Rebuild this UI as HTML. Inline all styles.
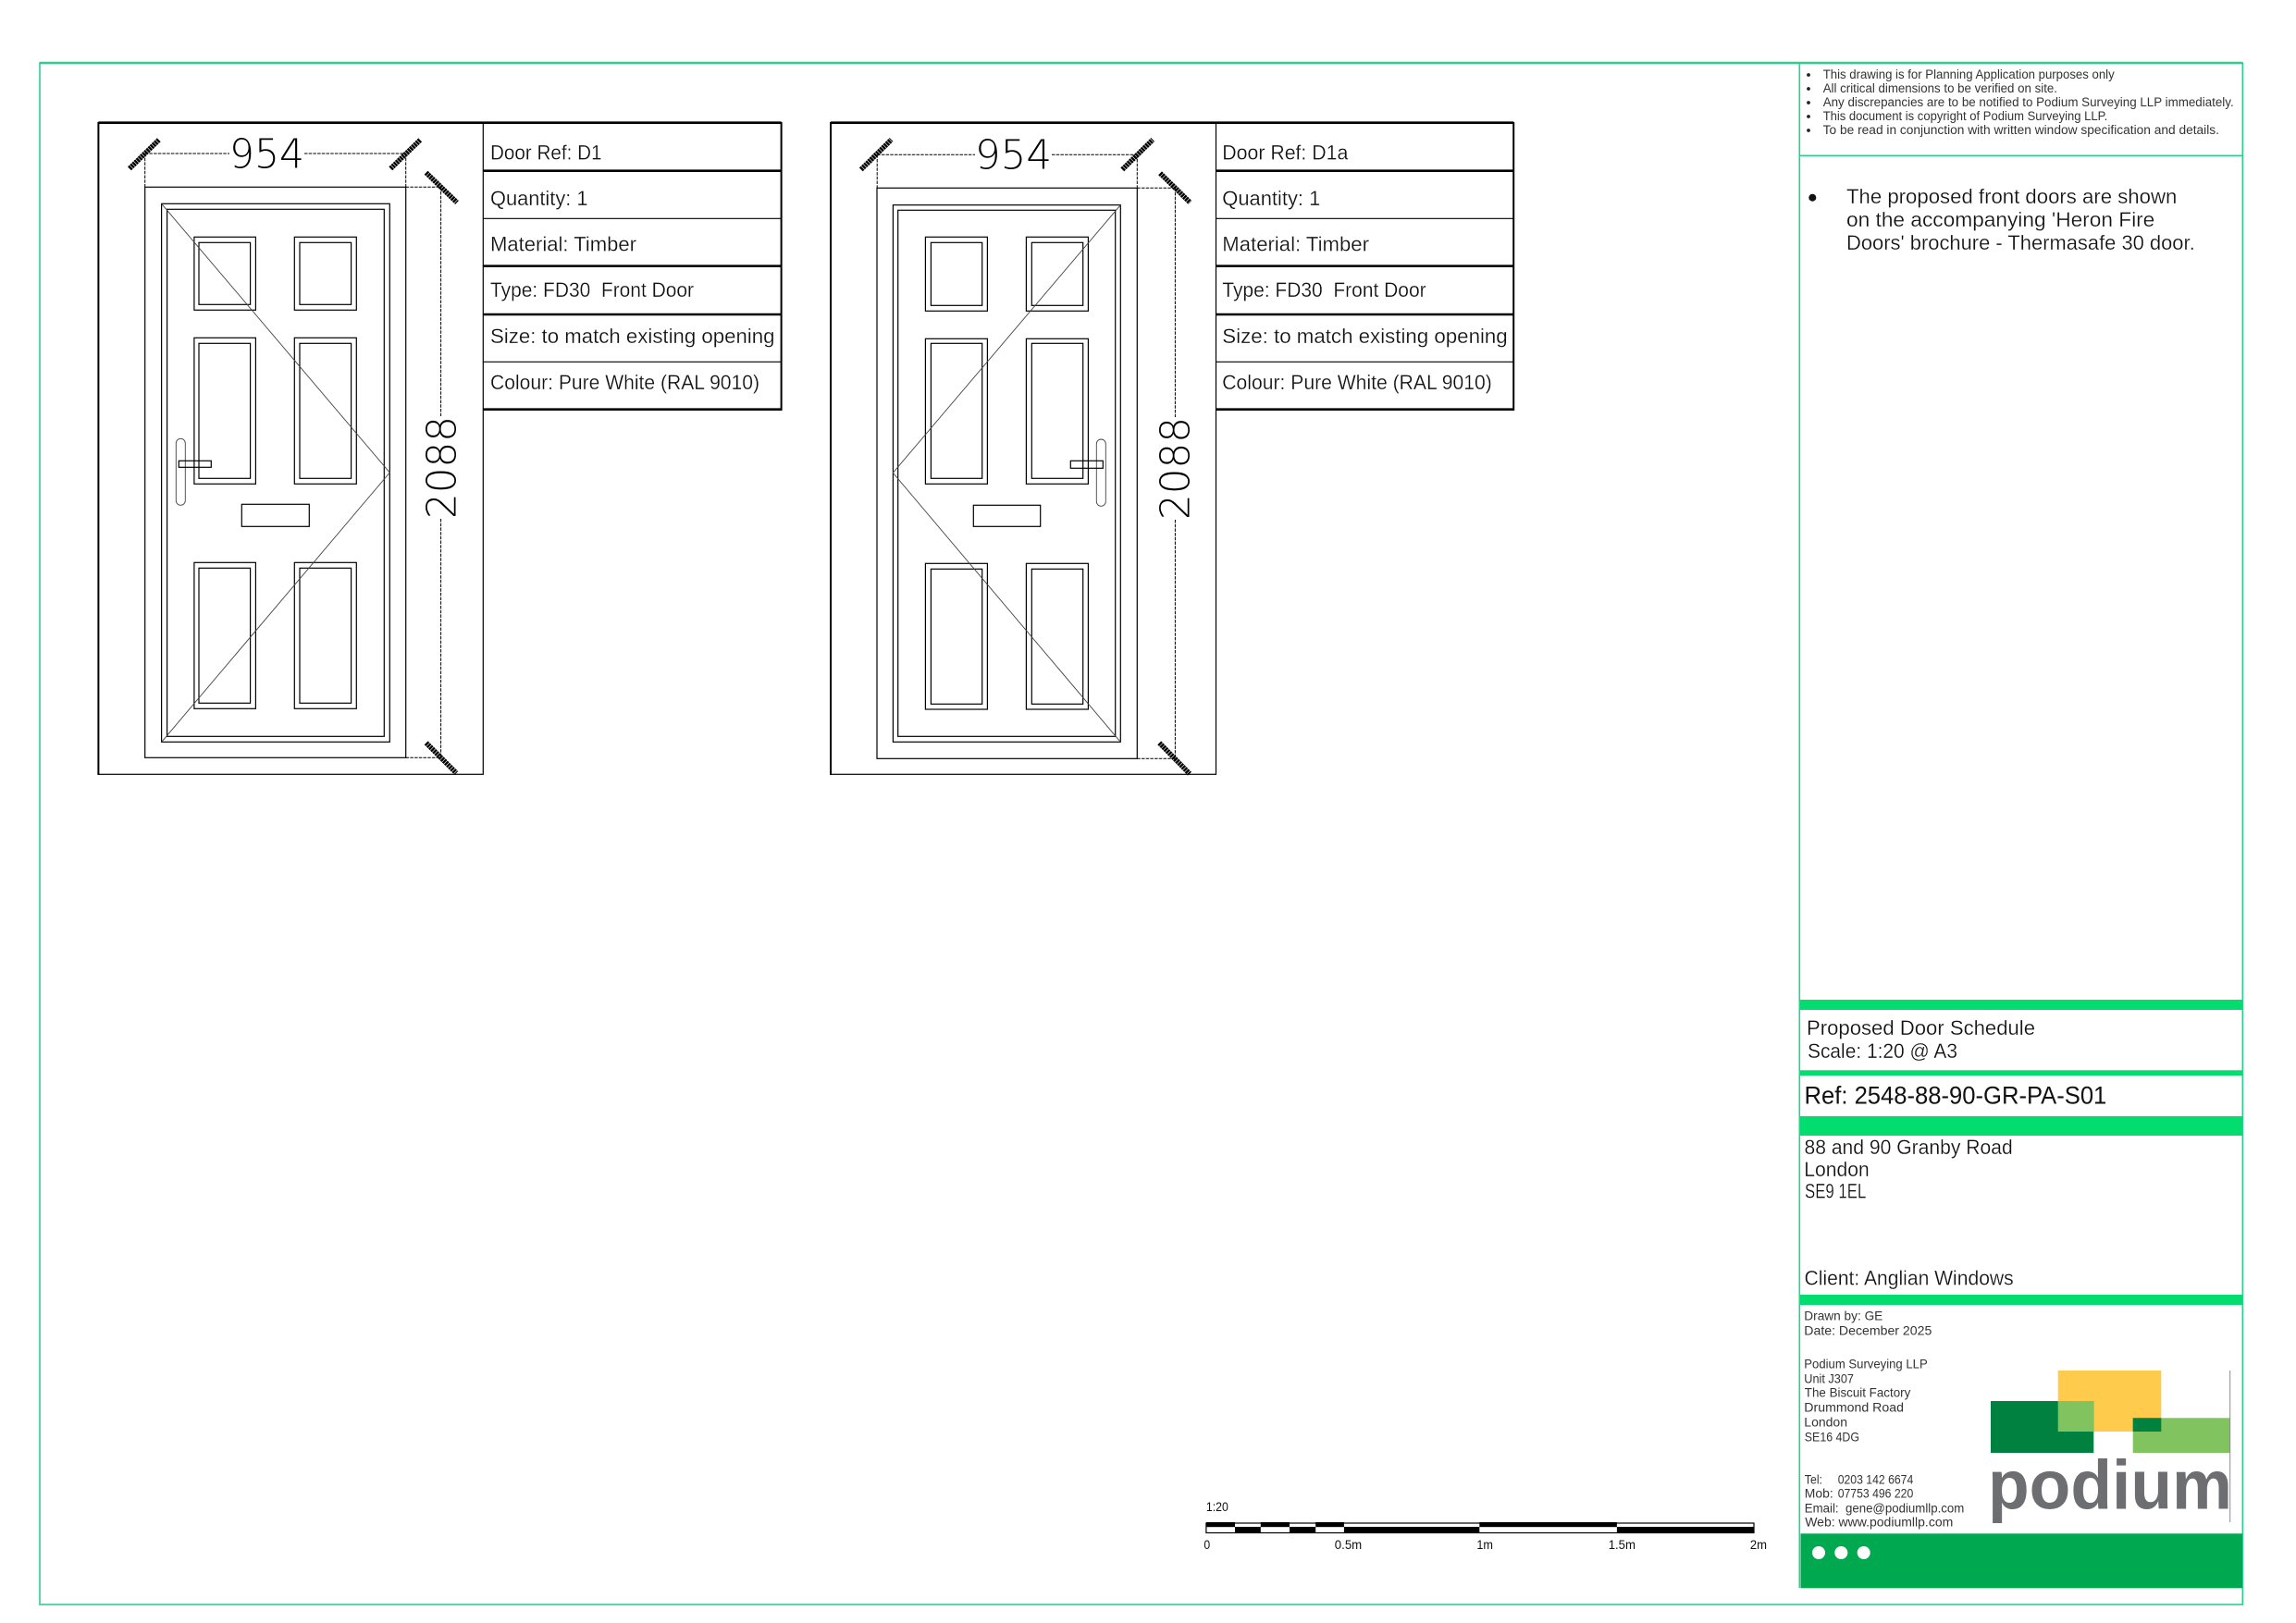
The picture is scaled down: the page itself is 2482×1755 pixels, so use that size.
<!DOCTYPE html>
<html><head><meta charset="utf-8"><title>Proposed Door Schedule</title>
<style>
html,body{margin:0;padding:0;background:#fff;width:2482px;height:1755px;overflow:hidden}
svg{display:block}
text{font-family:"Liberation Sans",sans-serif;fill:#111}
.l{fill:none;stroke:#000;stroke-width:1.2}
.s{fill:none;stroke:#444;stroke-width:.9}
.d{fill:none;stroke:#000;stroke-width:1;stroke-dasharray:3.5 1.2}
.t{fill:none;stroke:#000;stroke-width:5.5;stroke-dasharray:2.4 .6}
.b{fill:none;stroke:#000;stroke-width:2}
.b3{fill:none;stroke:#000;stroke-width:2.6}
.g{fill:none;stroke:#2bd08c;stroke-width:1.6}
.dim{font-family:"DejaVu Sans",sans-serif;font-weight:200;font-size:44px;fill:#000}
.tb{font-size:22px;stroke:#fff;stroke-width:.25px}
.n{font-size:13.5px;fill:#333}
.m{font-size:22px;stroke:#fff;stroke-width:.25px}
.a{font-size:14px;fill:#333}
.sc{font-size:14px;fill:#111}
</style></head><body>
<svg xmlns="http://www.w3.org/2000/svg" width="2482" height="1755" viewBox="0 0 2482 1755">
<rect width="2482" height="1755" fill="#fff"/>

<!-- outer frame -->
<rect x="43" y="68" width="2381.3" height="1667" class="g"/>
<line x1="43" y1="68" x2="2424" y2="68" stroke="#2bd08c" stroke-width="2.4"/>
<line x1="1945.3" y1="68" x2="1945.3" y2="1717" class="g"/>
<line x1="1945" y1="168.3" x2="2424" y2="168.3" class="g"/>

<!-- DOOR D1 -->
<rect x="106.4" y="132.7" width="415.9" height="704.6" class="l"/>
<line x1="106.4" y1="132.7" x2="844.6" y2="132.7" class="b3"/>
<line x1="106.4" y1="132" x2="106.4" y2="838" class="b"/>
<rect x="156.7" y="202.3" width="282" height="617" class="l"/>
<rect x="174.6" y="220.3" width="246.7" height="582" class="l"/>
<rect x="180.6" y="226.3" width="234.7" height="570" class="l"/>
<rect x="209.9" y="256.3" width="66.5" height="79" class="l"/><rect x="215" y="262.3" width="55.6" height="67" class="l"/>
<rect x="318.3" y="256.3" width="67" height="79" class="l"/><rect x="324" y="262.3" width="55.6" height="67" class="l"/>
<rect x="209.9" y="365.3" width="66.5" height="158" class="l"/><rect x="215" y="371.3" width="55.6" height="146" class="l"/>
<rect x="318.3" y="365.3" width="67" height="158" class="l"/><rect x="324" y="371.3" width="55.6" height="146" class="l"/>
<rect x="209.9" y="608.3" width="66.5" height="158" class="l"/><rect x="215" y="614.3" width="55.6" height="146" class="l"/>
<rect x="318.3" y="608.3" width="67" height="158" class="l"/><rect x="324" y="614.3" width="55.6" height="146" class="l"/>
<rect x="261.3" y="545.3" width="73" height="24" class="l"/>
<rect x="190.3" y="474.3" width="10" height="72" rx="5" ry="5" fill="#fff" class="s"/>
<rect x="193.3" y="498.3" width="35" height="7" fill="#fff" class="l"/>
<polyline points="174.6,220.3 421.3,511 174.7,802.3" class="s"/>
<path d="M156.7 166H248M329 166H438.7M156.7 166V202M438.7 166V202M438.7 202.3H476.6M476.6 202.3V450M476.6 561V819.3M438.7 819.3H476.6" class="d"/>
<line x1="140" y1="182.3" x2="172" y2="151" class="t"/>
<line x1="422.3" y1="182.3" x2="454.6" y2="151" class="t"/>
<line x1="460.6" y1="186.7" x2="494" y2="219" class="t"/>
<line x1="460.7" y1="803.3" x2="493.3" y2="836" class="t"/>
<text x="248" y="181.7" class="dim" textLength="81" lengthAdjust="spacingAndGlyphs">954</text>
<text transform="translate(492.3,561) rotate(-90)" class="dim" textLength="111" lengthAdjust="spacingAndGlyphs">2088</text>
<path d="M522.3 184.7H844.6M522.3 287.7H844.6M522.3 340H844.6M522.3 442.7H844.6" class="b3"/>
<path d="M522.3 236.3H844.6M522.3 391.3H844.6" class="l"/>
<line x1="844.6" y1="132" x2="844.6" y2="444" class="b"/>
<text x="530" y="172.3" class="tb" textLength="120.5" lengthAdjust="spacingAndGlyphs">Door Ref: D1</text>
<text x="530" y="222" class="tb" textLength="105.5" lengthAdjust="spacingAndGlyphs">Quantity: 1</text>
<text x="530" y="271.5" class="tb" textLength="158" lengthAdjust="spacingAndGlyphs">Material: Timber</text>
<text x="530" y="321" class="tb" textLength="220" lengthAdjust="spacingAndGlyphs" xml:space="preserve" style="white-space:pre">Type: FD30  Front Door</text>
<text x="530" y="371" class="tb" textLength="307.5" lengthAdjust="spacingAndGlyphs">Size: to match existing opening</text>
<text x="530" y="421" class="tb" textLength="291" lengthAdjust="spacingAndGlyphs">Colour: Pure White (RAL 9010)</text>

<!-- DOOR D1a -->
<rect x="898" y="132.7" width="416.5" height="704.6" class="l"/>
<line x1="898" y1="132.7" x2="1636.2" y2="132.7" class="b3"/>
<line x1="898" y1="132" x2="898" y2="838" class="b"/>
<rect x="948" y="203.3" width="281.3" height="617" class="l"/>
<rect x="965.4" y="221.7" width="245.9" height="580.6" class="l"/>
<rect x="970.7" y="227.3" width="235" height="569" class="l"/>
<rect x="1000.4" y="256.3" width="67" height="80" class="l"/><rect x="1006.4" y="262.3" width="55.3" height="68" class="l"/>
<rect x="1109.4" y="256.3" width="67" height="80" class="l"/><rect x="1115.3" y="262.3" width="55.4" height="68" class="l"/>
<rect x="1000.4" y="366.3" width="67" height="157" class="l"/><rect x="1006.4" y="371.3" width="55.3" height="146" class="l"/>
<rect x="1109.4" y="366.3" width="67" height="157" class="l"/><rect x="1115.3" y="371.3" width="55.4" height="146" class="l"/>
<rect x="1000.4" y="609.3" width="67" height="157.7" class="l"/><rect x="1006.4" y="615.3" width="55.3" height="146" class="l"/>
<rect x="1109.4" y="609.3" width="67" height="157.7" class="l"/><rect x="1115.3" y="615.3" width="55.4" height="146" class="l"/>
<rect x="1052.3" y="546.3" width="72.4" height="23" class="l"/>
<rect x="1185.3" y="475" width="10" height="72.3" rx="5" ry="5" fill="#fff" class="s"/>
<rect x="1157.3" y="498.3" width="35" height="8" fill="#fff" class="l"/>
<polyline points="1211.3,221.7 965.3,511.3 1211.3,802.3" class="s"/>
<path d="M948.2 167.3H1054M1137 167.3H1229.3M948.2 167.3V203M1229.3 167.3V203M1229.3 203.3H1270.4M1270.4 203.3V451M1270.4 562V820.3M1229.3 820.3H1270.4" class="d"/>
<line x1="930.8" y1="183.3" x2="963.6" y2="151" class="t"/>
<line x1="1213.3" y1="183.3" x2="1246.2" y2="151" class="t"/>
<line x1="1254.1" y1="187.3" x2="1286.5" y2="219" class="t"/>
<line x1="1253.3" y1="803.3" x2="1286" y2="836.7" class="t"/>
<text x="1054" y="182.3" class="dim" textLength="83" lengthAdjust="spacingAndGlyphs">954</text>
<text transform="translate(1285.7,562) rotate(-90)" class="dim" textLength="111" lengthAdjust="spacingAndGlyphs">2088</text>
<path d="M1314.3 184.7H1636.2M1314.3 287.7H1636.2M1314.3 340H1636.2M1314.3 442.7H1636.2" class="b3"/>
<path d="M1314.3 236.3H1636.2M1314.3 391.3H1636.2" class="l"/>
<line x1="1636.2" y1="132" x2="1636.2" y2="444" class="b"/>
<text x="1321.3" y="172.3" class="tb" textLength="136" lengthAdjust="spacingAndGlyphs">Door Ref: D1a</text>
<text x="1321.3" y="222" class="tb" textLength="106" lengthAdjust="spacingAndGlyphs">Quantity: 1</text>
<text x="1321.3" y="271.5" class="tb" textLength="158.7" lengthAdjust="spacingAndGlyphs">Material: Timber</text>
<text x="1321.3" y="321" class="tb" textLength="220.3" lengthAdjust="spacingAndGlyphs" xml:space="preserve" style="white-space:pre">Type: FD30  Front Door</text>
<text x="1321.3" y="371" class="tb" textLength="308.4" lengthAdjust="spacingAndGlyphs">Size: to match existing opening</text>
<text x="1321.3" y="421" class="tb" textLength="291.5" lengthAdjust="spacingAndGlyphs">Colour: Pure White (RAL 9010)</text>

<!-- notes -->
<g fill="#222"><circle cx="1955" cy="81" r="1.9"/><circle cx="1955" cy="96" r="1.9"/><circle cx="1955" cy="111" r="1.9"/><circle cx="1955" cy="126" r="1.9"/><circle cx="1955" cy="141" r="1.9"/></g>
<text x="1970.7" y="85" class="n" textLength="315" lengthAdjust="spacingAndGlyphs">This drawing is for Planning Application purposes only</text>
<text x="1970.7" y="100" class="n" textLength="253.3" lengthAdjust="spacingAndGlyphs">All critical dimensions to be verified on site.</text>
<text x="1970.7" y="115" class="n" textLength="444" lengthAdjust="spacingAndGlyphs">Any discrepancies are to be notified to Podium Surveying LLP immediately.</text>
<text x="1970.7" y="130" class="n" textLength="307.6" lengthAdjust="spacingAndGlyphs">This document is copyright of Podium Surveying LLP.</text>
<text x="1970.7" y="145" class="n" textLength="428.3" lengthAdjust="spacingAndGlyphs">To be read in conjunction with written window specification and details.</text>
<circle cx="1959.3" cy="213.7" r="4" fill="#111"/>
<text x="1996" y="220" class="m" textLength="357.3" lengthAdjust="spacingAndGlyphs">The proposed front doors are shown</text>
<text x="1996" y="245" class="m" textLength="333.3" lengthAdjust="spacingAndGlyphs">on the accompanying 'Heron Fire</text>
<text x="1996" y="270" class="m" textLength="376.7" lengthAdjust="spacingAndGlyphs">Doors' brochure - Thermasafe 30 door.</text>

<!-- title block -->
<g fill="#03dd70">
<rect x="1946" y="1081" width="478" height="11"/>
<rect x="1946" y="1157.3" width="478" height="5.7"/>
<rect x="1946" y="1207" width="478" height="21"/>
<rect x="1946" y="1400" width="478" height="11"/>
</g>
<text x="1953" y="1119" class="m" textLength="247" lengthAdjust="spacingAndGlyphs">Proposed Door Schedule</text>
<text x="1954" y="1144" class="m" textLength="162" lengthAdjust="spacingAndGlyphs">Scale: 1:20 @ A3</text>
<text x="1950.5" y="1193.3" style="font-size:27px" textLength="326.8" lengthAdjust="spacingAndGlyphs">Ref: 2548-88-90-GR-PA-S01</text>
<text x="1950.5" y="1248" class="m" textLength="225.2" lengthAdjust="spacingAndGlyphs">88 and 90 Granby Road</text>
<text x="1950.3" y="1272" class="m" textLength="70.4" lengthAdjust="spacingAndGlyphs">London</text>
<text x="1951" y="1295.7" class="m" textLength="66.3" lengthAdjust="spacingAndGlyphs">SE9 1EL</text>
<text x="1950.5" y="1389.3" class="m" textLength="226.2" lengthAdjust="spacingAndGlyphs">Client: Anglian Windows</text>

<text x="1950.3" y="1427.3" class="a" textLength="85" lengthAdjust="spacingAndGlyphs">Drawn by: GE</text>
<text x="1950.3" y="1443.3" class="a" textLength="138" lengthAdjust="spacingAndGlyphs">Date: December 2025</text>
<text x="1950.3" y="1479.3" class="a" textLength="133.4" lengthAdjust="spacingAndGlyphs">Podium Surveying LLP</text>
<text x="1950.3" y="1495.3" class="a" textLength="53.7" lengthAdjust="spacingAndGlyphs">Unit J307</text>
<text x="1950.8" y="1510.3" class="a" textLength="114.5" lengthAdjust="spacingAndGlyphs">The Biscuit Factory</text>
<text x="1950.3" y="1526.3" class="a" textLength="107.7" lengthAdjust="spacingAndGlyphs">Drummond Road</text>
<text x="1950.3" y="1542.3" class="a" textLength="46.7" lengthAdjust="spacingAndGlyphs">London</text>
<text x="1950.8" y="1558.3" class="a" textLength="59.2" lengthAdjust="spacingAndGlyphs">SE16 4DG</text>
<text x="1950.8" y="1604.3" class="a" textLength="19.2" lengthAdjust="spacingAndGlyphs">Tel:</text>
<text x="1986.7" y="1604.3" class="a" textLength="81.6" lengthAdjust="spacingAndGlyphs">0203 142 6674</text>
<text x="1950.8" y="1619.3" class="a" textLength="30.9" lengthAdjust="spacingAndGlyphs">Mob:</text>
<text x="1986.7" y="1619.3" class="a" textLength="81.6" lengthAdjust="spacingAndGlyphs">07753 496 220</text>
<text x="1950.8" y="1635.3" class="a" textLength="172.5" lengthAdjust="spacingAndGlyphs" xml:space="preserve" style="white-space:pre">Email:  gene@podiumllp.com</text>
<text x="1951.2" y="1650.3" class="a" textLength="160.1" lengthAdjust="spacingAndGlyphs">Web: www.podiumllp.com</text>

<!-- logo -->
<rect x="2224.7" y="1482" width="111.6" height="66" fill="#fecb4d"/>
<rect x="2152" y="1515" width="111.3" height="56" fill="#00813f"/>
<rect x="2224.7" y="1515" width="38.6" height="33" fill="#80c35f"/>
<rect x="2305.7" y="1533.3" width="105" height="37.7" fill="#80c35f"/>
<rect x="2305.7" y="1533.3" width="30.6" height="14.7" fill="#00813f"/>
<line x1="2410.7" y1="1482" x2="2410.7" y2="1646" stroke="#8a8a8d" stroke-width="1"/>
<text x="2149" y="1631.7" style="font-size:75px;font-weight:700;fill:#6d6e71" textLength="264" lengthAdjust="spacingAndGlyphs">podium</text>

<rect x="1946.5" y="1658.3" width="477.5" height="59" fill="#00a850"/>
<g fill="#fff"><circle cx="1966" cy="1679" r="7"/><circle cx="1990.3" cy="1679" r="7"/><circle cx="2014.7" cy="1679" r="7"/></g>

<!-- scale bar -->
<text x="1303.9" y="1634" class="sc" textLength="24" lengthAdjust="spacingAndGlyphs">1:20</text>
<rect x="1303.9" y="1647" width="592.1" height="10.5" fill="#fff" stroke="#000" stroke-width="1.2"/>
<g fill="#000">
<rect x="1303.9" y="1646" width="31.1" height="5.2"/><rect x="1362.8" y="1646" width="31.2" height="5.2"/><rect x="1422.2" y="1646" width="30.7" height="5.2"/><rect x="1599.3" y="1646" width="148.6" height="5.2"/>
<rect x="1335" y="1651" width="27.8" height="7"/><rect x="1394" y="1651" width="28.2" height="7"/><rect x="1452.9" y="1651" width="146.4" height="7"/><rect x="1747.9" y="1651" width="148.1" height="7"/>
</g>
<text x="1301.4" y="1675" class="sc" textLength="6.8" lengthAdjust="spacingAndGlyphs">0</text>
<text x="1442.8" y="1675" class="sc" textLength="29.4" lengthAdjust="spacingAndGlyphs">0.5m</text>
<text x="1596.4" y="1675" class="sc" textLength="17.6" lengthAdjust="spacingAndGlyphs">1m</text>
<text x="1738.7" y="1675" class="sc" textLength="29.3" lengthAdjust="spacingAndGlyphs">1.5m</text>
<text x="1891.9" y="1675" class="sc" textLength="18.1" lengthAdjust="spacingAndGlyphs">2m</text>
</svg>
</body></html>
